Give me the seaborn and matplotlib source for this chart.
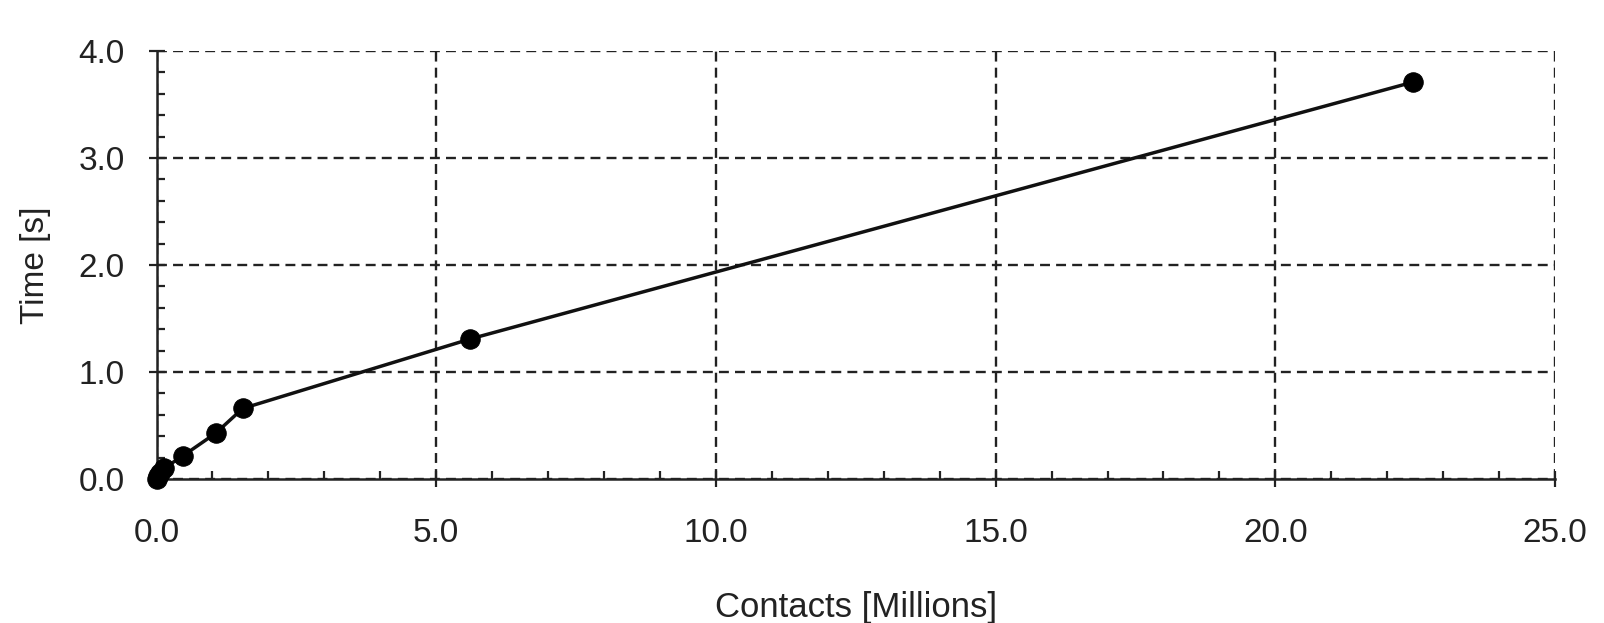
import matplotlib
matplotlib.use("Agg")
import matplotlib.pyplot as plt
import seaborn as sns
import pandas as pd
from matplotlib.ticker import MultipleLocator, FormatStrFormatter

contacts = [0.0, 0.03, 0.07, 0.13, 0.48, 1.06, 1.54, 5.61, 22.46]
times = [0.0, 0.03, 0.06, 0.10, 0.22, 0.43, 0.66, 1.31, 3.71]

df = pd.DataFrame({"Contacts": contacts, "Time": times})

sns.set_theme(style="white")
plt.rcParams['font.family'] = ['Liberation Sans', 'DejaVu Sans']

fig = plt.figure(figsize=(16.04, 6.23), dpi=100)
ax = fig.add_axes([0.0976, 0.231, 0.8719, 0.687])

sns.lineplot(data=df, x="Contacts", y="Time", ax=ax, color="#111111",
             linewidth=2.5, marker="o", markersize=14, markeredgecolor="black",
             markerfacecolor="black", zorder=5, clip_on=False)

ax.set_xlim(0, 25)
ax.set_ylim(0, 4)
ax.xaxis.set_major_locator(MultipleLocator(5))
ax.xaxis.set_minor_locator(MultipleLocator(1))
ax.yaxis.set_major_locator(MultipleLocator(1))
ax.yaxis.set_minor_locator(MultipleLocator(0.2))
ax.xaxis.set_major_formatter(FormatStrFormatter('%.1f'))
ax.yaxis.set_major_formatter(FormatStrFormatter('%.1f'))

ax.grid(True, which="major", color="#222222", linestyle=(0, (4.2, 2.6)), linewidth=1.7)
for s in ["top", "right"]:
    ax.spines[s].set_visible(False)
for s in ["left", "bottom"]:
    ax.spines[s].set_color("#222222")
    ax.spines[s].set_linewidth(1.8)

ax.tick_params(axis="both", which="major", direction="inout", length=12, width=1.6,
               color="#222222", labelsize=24, labelcolor="#222222",
               bottom=True, left=True)
ax.tick_params(axis="both", which="minor", direction="in", length=6, width=1.6,
               color="#222222", bottom=True, left=True)
ax.tick_params(axis="x", which="major", pad=22)
ax.tick_params(axis="y", which="major", pad=17)

ax.set_xlabel("Contacts [Millions]", fontsize=25, color="#222222", labelpad=30)
ax.set_ylabel("Time [s]", fontsize=24, color="#222222", labelpad=20)

fig.savefig("out.png", dpi=100, facecolor="white")
